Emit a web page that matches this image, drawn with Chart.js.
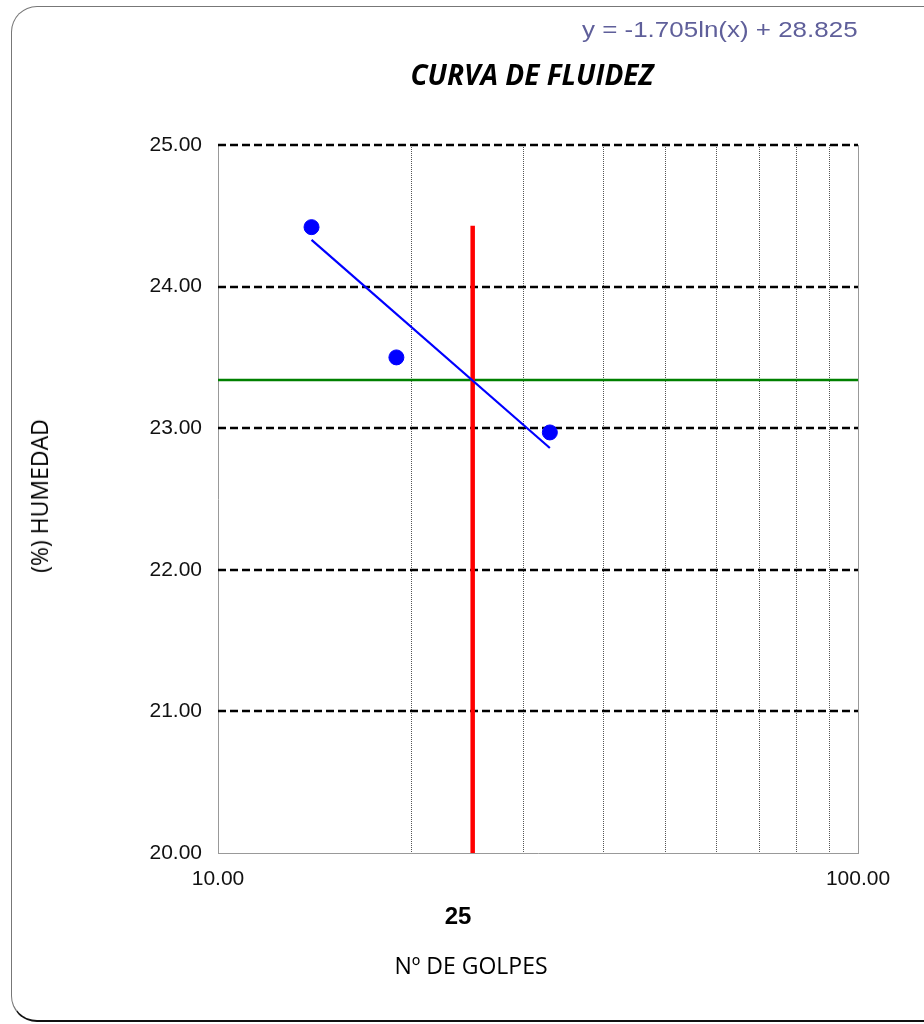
<!DOCTYPE html>
<html>
<head>
<meta charset="utf-8">
<script src="https://cdn.jsdelivr.net/npm/chart.js@4"></script>
<style>
    body { margin: 0; background: #fff; }
    #wrap { position: relative; width: 924px; height: 1024px; overflow: hidden; }
    #card {
        position: absolute; left: 11px; top: 6px; width: 950px; height: 1013px;
        border: 1px solid #777; border-bottom: 2px solid #111; border-radius: 26px;
    }
    canvas { position: absolute; left: 0; top: 0; }
    .txt { position: absolute; white-space: nowrap; line-height: 1; }
    #eq { right: 66px; top: 17px; font: 22px "Liberation Sans", Arial, sans-serif; color: #5f5f9a;
          transform: scaleX(1.18); transform-origin: right center; }
    #title { left: 532px; top: 55px; font: italic bold 28px "Open Sans", sans-serif; transform: translateX(-50%); }
    #ytitle { left: 39px; top: 496px; font: 23px "Open Sans", sans-serif; transform: translate(-50%, -50%) rotate(-90deg); }
    #xtitle { left: 471px; top: 965px; font: 23px "Open Sans", sans-serif; transform: translate(-50%, -50%); }
    #n25 { left: 458px; top: 916px; font: bold 24px "Liberation Sans", Arial, sans-serif; transform: translate(-50%, -50%); }
</style>
</head>
<body>
<div id="wrap">
    <div id="card"></div>
    <canvas id="fluidez" width="924" height="1024"></canvas>
    <div class="txt" id="eq">y = -1.705ln(x) + 28.825</div>
    <div class="txt" id="title">CURVA DE FLUIDEZ</div>
    <div class="txt" id="ytitle">(%) HUMEDAD</div>
    <div class="txt" id="xtitle">Nº DE GOLPES</div>
    <div class="txt" id="n25">25</div>
</div>
<script>
    // Ensayo: numero de golpes vs humedad
    const golpes = [14, 19, 33];
    const humedad = [24.42, 23.50, 22.97];

    // Linea de tendencia (extremos)
    const tendX = [14, 33];
    const tendY = [24.33, 22.86];

    // Linea a 25 golpes y limite liquido
    const golpes25X = [25, 25];
    const golpes25Y = [20, 24.43];
    const limiteX = [10, 100];
    const limiteY = [23.34, 23.34];

    const xTicks = [10, 100];
    const xGrid = [20, 30, 40, 50, 60, 70, 80, 90];
    const yGrid = [21, 22, 23, 24, 25];

    function pares(xs, ys) {
        return xs.map(function (x, i) { return { x: x, y: ys[i] }; });
    }

    // Grid lines drawn by hand (dotted vertical, dashed horizontal)
    const gridPlugin = {
        id: 'gridPlugin',
        beforeDatasetsDraw: function (chart) {
            const ctx = chart.ctx;
            const a = chart.chartArea;
            const sx = chart.scales.x, sy = chart.scales.y;
            ctx.save();
            ctx.lineWidth = 1;
            ctx.strokeStyle = '#555';
            ctx.setLineDash([1, 1]);
            xGrid.forEach(function (v) {
                const px = Math.round(sx.getPixelForValue(v)) + 0.5;
                ctx.beginPath();
                ctx.moveTo(px, a.top);
                ctx.lineTo(px, a.bottom);
                ctx.stroke();
            });
            ctx.setLineDash([]);
            ctx.strokeStyle = '#999';
            const pr = Math.round(sx.getPixelForValue(100)) + 0.5;
            ctx.beginPath();
            ctx.moveTo(pr, a.top);
            ctx.lineTo(pr, a.bottom);
            ctx.stroke();
            ctx.lineWidth = 2.5;
            ctx.strokeStyle = '#000';
            ctx.setLineDash([8, 4]);
            yGrid.forEach(function (v) {
                const py = Math.round(sy.getPixelForValue(v));
                ctx.beginPath();
                ctx.moveTo(a.left, py);
                ctx.lineTo(a.right, py);
                ctx.stroke();
            });
            ctx.restore();
        }
    };

    const ctx = document.getElementById('fluidez').getContext('2d');
    const chart = new Chart(ctx, {
        type: 'scatter',
        data: {
            datasets: [{
                data: pares(golpes, humedad),
                backgroundColor: '#0000ff',
                borderColor: '#0000ff',
                pointRadius: 7.5,
                pointHoverRadius: 7.5
            }, {
                data: pares(tendX, tendY),
                showLine: true,
                borderColor: '#0000ff',
                borderWidth: 2.2,
                pointRadius: 0
            }, {
                data: pares(golpes25X, golpes25Y),
                showLine: true,
                borderColor: '#ff0000',
                borderWidth: 4.5,
                pointRadius: 0
            }, {
                data: pares(limiteX, limiteY),
                showLine: true,
                borderColor: '#008000',
                borderWidth: 2.5,
                pointRadius: 0
            }]
        },
        options: {
            responsive: false,
            animation: false,
            layout: {
                padding: { left: 0, top: 145, right: 66, bottom: 131 }
            },
            plugins: {
                legend: { display: false },
                tooltip: { enabled: false }
            },
            scales: {
                x: {
                    type: 'logarithmic',
                    min: 10,
                    max: 100,
                    afterBuildTicks: function (scale) {
                        scale.ticks = xTicks.map(function (v) { return { value: v }; });
                    },
                    afterFit: function (scale) { scale.height = 40; },
                    grid: { drawOnChartArea: false, drawTicks: false },
                    border: { color: '#999', width: 1 },
                    ticks: {
                        autoSkip: false,
                        maxRotation: 0,
                        padding: 14,
                        color: '#111',
                        font: { family: 'Liberation Sans', size: 21 },
                        callback: function (v) { return Number(v).toFixed(2); }
                    }
                },
                y: {
                    min: 20,
                    max: 25,
                    afterFit: function (scale) { scale.width = 218; },
                    grid: { drawOnChartArea: false, drawTicks: false },
                    border: { color: '#999', width: 1 },
                    ticks: {
                        stepSize: 1,
                        padding: 16,
                        color: '#111',
                        font: { family: 'Liberation Sans', size: 21 },
                        callback: function (v) { return Number(v).toFixed(2); }
                    }
                }
            }
        },
        plugins: [gridPlugin]
    });
</script>
</body>
</html>
